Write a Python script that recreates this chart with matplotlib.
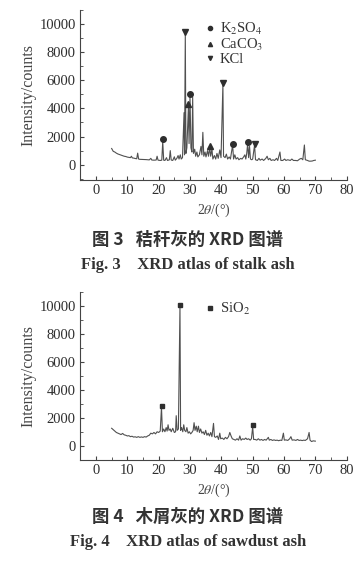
import matplotlib
matplotlib.use("Agg")
import matplotlib.pyplot as plt
from matplotlib.lines import Line2D

plt.rcParams['font.family'] = ['Liberation Serif', 'DejaVu Serif']
plt.rcParams['mathtext.fontset'] = 'stix'

# 秸秆灰 XRD 图谱 (2theta, counts)
stalk_x = [5.0, 5.5, 6.0, 6.5, 7.0, 7.5, 8.0, 8.5, 9.0, 9.5, 10.0, 10.5, 11.0, 11.3, 11.6,
           12.0, 12.5, 13.0, 13.3, 13.6, 14.0, 15.0, 16.0, 17.0, 17.5, 17.8, 18.5, 19.2, 19.5,
           19.8, 20.5, 21.0, 21.3, 21.6, 22.0, 22.5, 22.8, 23.4, 23.7, 24.0, 24.5, 25.0, 25.3,
           25.8, 26.2, 26.5, 26.9, 27.2, 27.6, 28.1, 28.25, 28.5, 28.7, 29.0, 29.5, 29.7, 30.0,
           30.3, 30.6, 30.85, 31.1, 31.5, 31.8, 32.2, 32.5, 33.0, 33.5, 33.8, 34.1, 34.4, 34.8,
           35.1, 35.6, 35.9, 36.3, 36.6, 37.0, 37.3, 37.8, 38.2, 38.6, 39.0, 39.5, 39.9, 40.5,
           40.7, 41.2, 41.6, 42.0, 42.5, 42.9, 43.6, 43.9, 44.3, 44.7, 45.2, 45.6, 46.2, 46.6,
           47.1, 47.5, 47.8, 48.1, 48.4, 48.7, 49.0, 49.3, 49.7, 50.0, 50.6, 50.9, 51.5, 52.0,
           52.4, 53.0, 53.5, 54.2, 54.6, 55.0, 55.5, 55.9, 56.5, 57.0, 57.6, 58.0, 58.7, 59.0,
           59.6, 60.2, 60.6, 61.2, 62.0, 62.5, 63.0, 63.6, 64.3, 65.0, 65.5, 66.0, 66.5, 66.8,
           67.5, 68.0, 68.5, 69.0, 69.5, 70.0]
stalk_y = [1150, 950, 900, 820, 760, 720, 680, 640, 600, 580, 540, 520, 500, 600, 480,
           470, 440, 420, 820, 400, 380, 370, 360, 340, 450, 330, 320, 330, 600,
           320, 300, 320, 1650, 320, 300, 500, 300, 340, 1000, 330, 300, 560, 320,
           450, 650, 400, 700, 400, 500, 3700, 700, 9300, 800, 1200, 4150, 1500, 4900,
           1200, 900, 4800, 800, 1100, 600, 900, 550, 700, 1300, 700, 2300, 600, 900,
           550, 1000, 600, 1200, 600, 1100, 400, 650, 400, 800, 450, 1050, 500, 5700,
           600, 500, 750, 400, 550, 400, 1400, 400, 700, 400, 500, 350, 450, 400,
           550, 700, 400, 800, 1500, 500, 1300, 400, 350, 400, 1400, 350, 300, 450,
           320, 400, 300, 450, 600, 350, 450, 300, 350, 300, 450, 300, 900, 300,
           300, 400, 300, 350, 300, 400, 300, 300, 280, 400, 450, 350, 1400, 350,
           300, 250, 250, 260, 300, 320]

k2so4_x = [21.3, 30.0, 43.6, 48.4]
k2so4_y = [1800, 5000, 1500, 1600]
caco3_x = [29.5, 36.3]
caco3_y = [4350, 1330]
kcl_x = [28.5, 40.5, 50.6]
kcl_y = [9400, 5800, 1500]

# 木屑灰 XRD 图谱
saw_x = [5.0, 5.5, 6.0, 6.5, 7.0, 7.5, 8.0, 8.5, 9.0, 9.5, 10.0, 10.5, 11.0, 11.5, 12.0,
         12.5, 13.0, 13.5, 14.0, 14.5, 15.0, 15.5, 16.0, 16.5, 17.0, 17.5, 18.0, 18.5, 19.0,
         19.5, 20.0, 20.5, 20.9, 21.2, 21.6, 22.0, 22.4, 22.7, 23.0, 23.3, 23.7, 24.0, 24.5,
         25.0, 25.4, 25.6, 25.9, 26.3, 26.8, 27.0, 27.3, 27.7, 28.0, 28.3, 28.7, 29.0, 29.4,
         29.8, 30.2, 30.6, 31.0, 31.3, 31.6, 32.0, 32.3, 32.7, 33.0, 33.4, 33.8, 34.2, 34.6,
         35.0, 35.4, 35.8, 36.2, 36.6, 37.0, 37.5, 37.8, 38.2, 38.7, 39.1, 39.5, 39.8, 40.3,
         40.8, 41.3, 41.8, 42.3, 42.7, 43.1, 43.5, 44.0, 44.5, 45.0, 45.5, 45.9, 46.3, 46.8,
         47.3, 47.8, 48.2, 48.7, 49.2, 49.6, 50.0, 50.3, 50.8, 51.3, 51.8, 52.3, 52.8, 53.3,
         53.8, 54.3, 55.0, 55.3, 55.8, 56.3, 56.8, 57.3, 57.8, 58.3, 58.8, 59.3, 59.8, 60.1,
         60.6, 61.2, 61.8, 62.2, 62.6, 63.2, 63.8, 64.3, 64.8, 65.3, 65.8, 66.3, 66.8, 67.5,
         68.0, 68.3, 68.8, 69.3, 70.0]
saw_y = [1250, 1150, 1050, 950, 900, 850, 800, 880, 780, 750, 700, 720, 650, 680, 620,
         640, 600, 650, 600, 630, 600, 650, 620, 700, 750, 900, 850, 950, 850,
         1000, 950, 1050, 2750, 1000, 1200, 1000, 1300, 1050, 1500, 1100, 1200, 1000, 1250,
         950, 1000, 2150, 1100, 1200, 10000, 1100, 1300, 1000, 1500, 1100, 1000, 1300, 900,
         1000, 850, 950, 1100, 1650, 1100, 1400, 1000, 1400, 950, 1200, 900, 1000, 800,
         1100, 750, 900, 700, 950, 650, 1600, 650, 600, 700, 450, 900, 500, 550,
         450, 600, 500, 650, 950, 700, 500, 450, 400, 500, 400, 700, 400, 500,
         450, 550, 450, 500, 400, 500, 1350, 450, 450, 400, 500, 400, 450, 380,
         450, 400, 600, 400, 450, 380, 420, 380, 400, 360, 400, 380, 900, 400,
         420, 380, 500, 650, 400, 420, 380, 450, 380, 400, 370, 400, 380, 500,
         950, 400, 300, 350, 330]

sio2_x = [21.0, 26.8, 50.1]
sio2_y = [2850, 10050, 1450]

xticks = [0, 10, 20, 30, 40, 50, 60, 70, 80]
yticks = [0, 2000, 4000, 6000, 8000, 10000]

line_c = '#505050'
mark_c = '#2e2e2e'

fig = plt.figure(figsize=(3.6, 5.68), dpi=100)
W, H = 360.0, 568.0


def setup(ax, ylim):
    ax.set_xlim(-5.1, 80)
    ax.set_ylim(*ylim)
    ax.set_xticks(xticks)
    ax.set_xticks(range(-5, 81, 5), minor=True)
    ax.set_yticks(yticks)
    ax.set_yticks(range(-1000, 11001, 1000), minor=True)
    for s in ['top', 'right']:
        ax.spines[s].set_visible(False)
    for s in ['left', 'bottom']:
        ax.spines[s].set_color('#444444')
        ax.spines[s].set_linewidth(0.8)
    ax.tick_params(which='both', direction='in', colors='#444444', labelcolor='#2e2e2e',
                   labelsize=10.5, pad=3)
    ax.tick_params(which='major', length=3)
    ax.tick_params(which='minor', length=2)
    ax.set_ylabel('Intensity/counts', fontsize=11.5, color='#444444', labelpad=2)
    ax.set_xlabel('2$\\theta$/(°)', fontsize=10, color='#444444', labelpad=3)


ax1 = fig.add_axes([80 / W, 1 - 180 / H, 266.7 / W, 170 / H])
setup(ax1, (-1090, 10950))
ax1.plot(stalk_x, stalk_y, color=line_c, lw=0.8)
ax1.plot(k2so4_x, k2so4_y, 'o', color=mark_c, ms=4, ls='none')
ax1.plot(caco3_x, caco3_y, '^', color=mark_c, ms=4, ls='none')
ax1.plot(kcl_x, kcl_y, 'v', color=mark_c, ms=4, ls='none')
h1 = [Line2D([], [], marker='o', color=mark_c, ls='none', ms=3),
      Line2D([], [], marker='^', color=mark_c, ls='none', ms=3),
      Line2D([], [], marker='v', color=mark_c, ls='none', ms=3)]
ax1.legend(h1, ['K$_2$SO$_4$', 'CaCO$_3$', 'KCl'], loc='upper left',
           bbox_to_anchor=(0.44, 0.98), frameon=False, fontsize=10.5,
           handlelength=0.7, handletextpad=0.35, labelspacing=0.0, borderpad=0,
           labelcolor='#333333')

ax2 = fig.add_axes([80 / W, 1 - 460 / H, 266.7 / W, 168 / H])
setup(ax2, (-1020, 11000))
ax2.plot(saw_x, saw_y, color=line_c, lw=0.8)
ax2.plot(sio2_x, sio2_y, 's', color=mark_c, ms=3.5, ls='none')
h2 = [Line2D([], [], marker='s', color=mark_c, ls='none', ms=3)]
ax2.legend(h2, ['SiO$_2$'], loc='upper left', bbox_to_anchor=(0.44, 0.99),
           frameon=False, fontsize=10.5, handlelength=0.7, handletextpad=0.35,
           borderpad=0, labelcolor='#333333')

cx = 188 / W
fig.text(cx, 1 - 240 / H, '图 3   秸秆灰的 XRD 图谱', ha='center', va='center',
         family=['Noto Sans CJK SC'], fontweight='bold', fontsize=12.5, color='#333333')
fig.text(cx, 1 - 265 / H, 'Fig. 3    XRD atlas of stalk ash', ha='center', va='center',
         fontweight='bold', fontsize=12, color='#333333')
fig.text(cx, 1 - 517 / H, '图 4   木屑灰的 XRD 图谱', ha='center', va='center',
         family=['Noto Sans CJK SC'], fontweight='bold', fontsize=12.5, color='#333333')
fig.text(cx, 1 - 542 / H, 'Fig. 4    XRD atlas of sawdust ash', ha='center', va='center',
         fontweight='bold', fontsize=12, color='#333333')

fig.savefig('out.png', dpi=100)
